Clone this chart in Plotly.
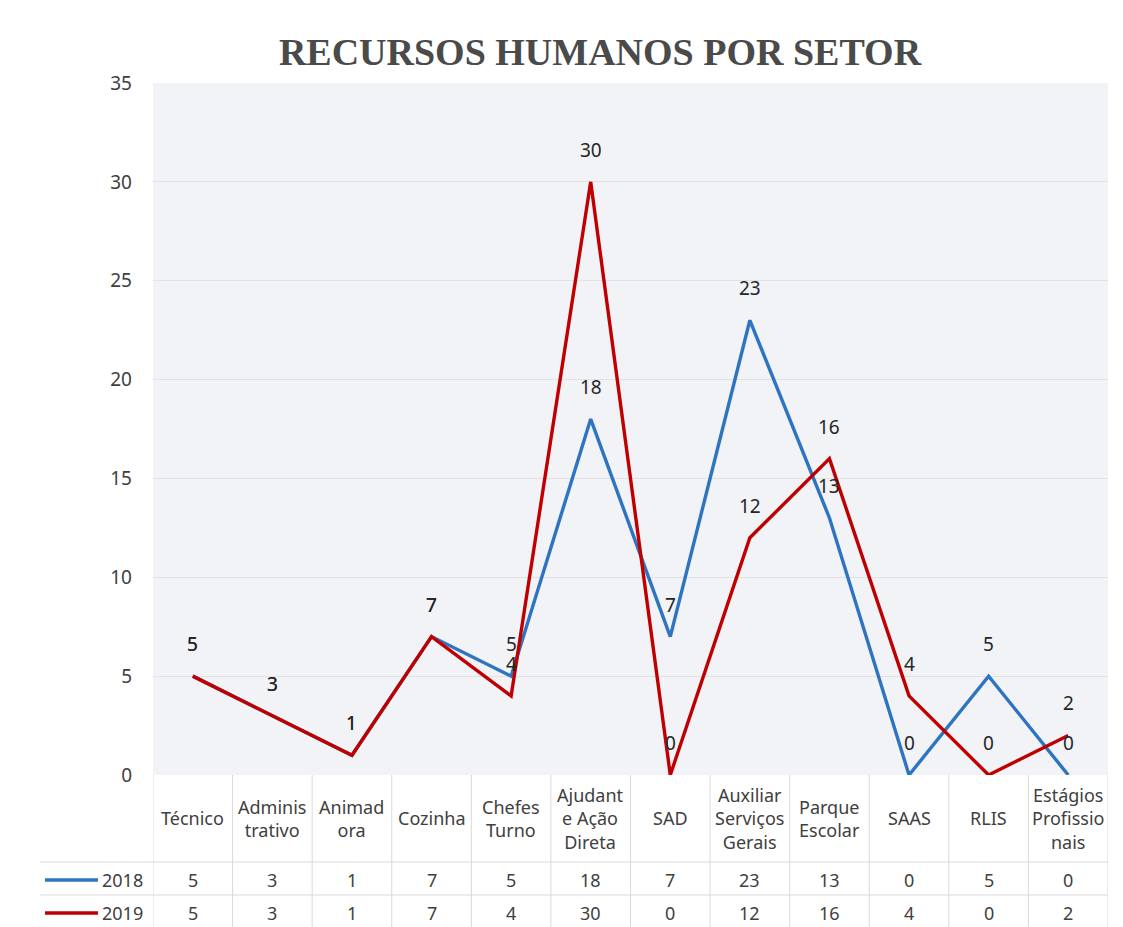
import plotly.graph_objects as go

categories = ["Técnico", "Adminis<br>trativo", "Animad<br>ora", "Cozinha", "Chefes<br>Turno",
              "Ajudant<br>e Ação<br>Direta", "SAD", "Auxiliar<br>Serviços<br>Gerais",
              "Parque<br>Escolar", "SAAS", "RLIS", "Estágios<br>Profissio<br>nais"]
series_names = ["2018", "2019"]
values_2018 = [5, 3, 1, 7, 5, 18, 7, 23, 13, 0, 5, 0]
values_2019 = [5, 3, 1, 7, 4, 30, 0, 12, 16, 4, 0, 2]
y_ticks = [0, 5, 10, 15, 20, 25, 30, 35]

colors = {"2018": "#2e74c0", "2019": "#c00000"}
series = {"2018": values_2018, "2019": values_2019}

FONT = "Noto Sans"
TXT = "#404040"
GRID = "#d9d9d9"

# page body has an 8px margin; compensate
OFF = 8
W, H = 1123 - OFF, 927 - OFF
ML, MR, MT, MB = 153 - OFF, 15, 83 - OFF, 152
PW = W - ML - MR
PH = H - MT - MB

n = len(categories)
xs = list(range(n))

fig = go.Figure()
for name in series_names:
    fig.add_trace(go.Scatter(
        x=xs, y=series[name], mode="lines", name=name,
        line=dict(color=colors[name], width=3.4), showlegend=False,
        hoverinfo="x+y"))

annotations = []
for name in series_names:
    for i, v in enumerate(series[name]):
        annotations.append(dict(x=i, y=v, xref="x", yref="y", text=str(v), showarrow=False,
                                yshift=32, font=dict(family=FONT, size=19, color="#262626")))

H_HEADER = 87
ROW_H = 33
for i, c in enumerate(categories):
    annotations.append(dict(x=i, y=0, xref="x", yref="paper", text=c, showarrow=False,
                            yanchor="middle", yshift=-43, font=dict(family=FONT, size=18, color=TXT)))
for r, name in enumerate(series_names):
    ys = -(H_HEADER + ROW_H * r + 18)
    for i, v in enumerate(series[name]):
        annotations.append(dict(x=i, y=0, xref="x", yref="paper", text=str(v), showarrow=False,
                                yanchor="middle", yshift=ys, font=dict(family=FONT, size=18, color=TXT)))
    annotations.append(dict(x=-8 / PW, y=0, xref="paper", yref="paper", text=name, showarrow=False,
                            xanchor="right", yanchor="middle", yshift=ys,
                            font=dict(family=FONT, size=18, color=TXT)))

shapes = []
for k in range(n + 1):
    shapes.append(dict(type="line", xref="x", yref="paper", x0=k - 0.5, x1=k - 0.5,
                       y0=0, y1=-152 / PH, line=dict(color=GRID, width=1)))
for yy in [87, 87 + ROW_H]:
    shapes.append(dict(type="line", xref="paper", yref="paper", x0=-113 / PW, x1=1,
                       y0=-yy / PH, y1=-yy / PH, line=dict(color=GRID, width=1)))
for r, name in enumerate(series_names):
    yy = -(H_HEADER + ROW_H * r + 18) / PH
    shapes.append(dict(type="line", xref="paper", yref="paper", x0=-108 / PW, x1=-55 / PW,
                       y0=yy, y1=yy, line=dict(color=colors[name], width=3.5)))

fig.update_layout(
    width=W, height=H,
    margin=dict(l=ML, r=MR, t=MT, b=MB),
    paper_bgcolor="white",
    plot_bgcolor="#f1f3f7",
    title=dict(text="<b>RECURSOS HUMANOS POR SETOR</b>", x=(600 - OFF) / W, xanchor="center",
               y=1 - (52 - OFF) / H, yanchor="middle", yref="container",
               font=dict(family="Liberation Serif", size=38, color="#4a4a4a")),
    xaxis=dict(range=[-0.5, n - 0.5], showticklabels=False, showgrid=False, zeroline=False,
               fixedrange=True),
    yaxis=dict(range=[0, 35], tickvals=y_ticks, showgrid=True, gridcolor="#e2e2e2",
               zeroline=False, ticklabelstandoff=20,
               tickfont=dict(family=FONT, size=19, color=TXT)),
    annotations=annotations,
    shapes=shapes,
    font=dict(family=FONT),
)

fig.write_html("out.html")
